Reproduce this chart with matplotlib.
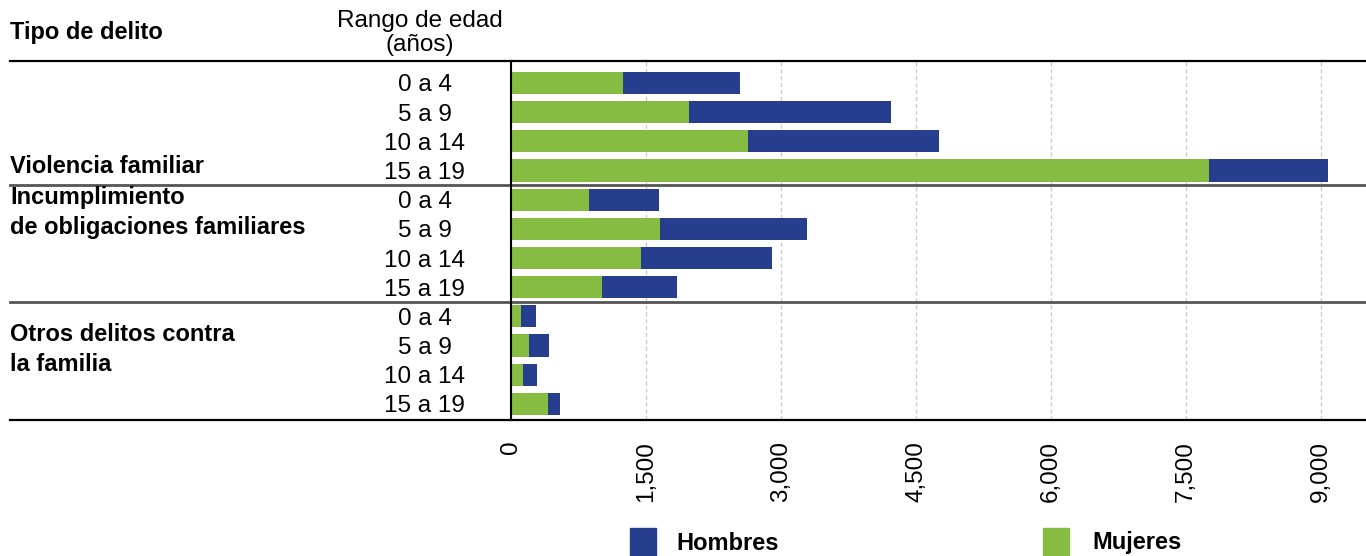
import matplotlib
matplotlib.use("Agg")
import matplotlib.pyplot as plt
from matplotlib.patches import Rectangle
import matplotlib.transforms as mtransforms
import numpy as np

plt.rcParams['font.family'] = ['Liberation Sans', 'DejaVu Sans']

# data
grupos = ["Violencia familiar",
          "Incumplimiento\nde obligaciones familiares",
          "Otros delitos contra\nla familia"]
edades = ["0 a 4", "5 a 9", "10 a 14", "15 a 19"]
mujeres = [1244, 1978, 2633, 7756,
           867, 1656, 1444, 1011,
           111, 200, 133, 411]
hombres = [1300, 2244, 2123, 1322,
           777, 1633, 1456, 833,
           167, 222, 156, 133]
xticks = [0, 1500, 3000, 4500, 6000, 7500, 9000]

verde = "#86BC42"
azul = "#273E8F"

W, H = 1366, 556
fig = plt.figure(figsize=(W / 100, H / 100), dpi=100)
ax = fig.add_axes([511 / W, 1 - 420 / H, 1 - 511 / W, (420 - 61) / H])

y = np.arange(len(mujeres))
ax.barh(y, mujeres, height=0.76, color=verde, zorder=3)
ax.barh(y, hombres, left=mujeres, height=0.76, color=azul, zorder=3)

ax.set_ylim(11.55, -0.75)
ax.set_xlim(0, 9000 * (1366 - 511) / (1321 - 511))

ax.set_xticks(xticks)
ax.set_xticklabels([f"{v:,}" for v in xticks], rotation=90, fontsize=17.5,
                   va="top")
ax.tick_params(axis="x", length=0, pad=15)
ax.set_yticks(y)
ax.set_yticklabels(edades * 3, fontsize=17.5, ha="center")
ax.tick_params(axis="y", length=0, pad=62)

ax.grid(axis="x", color="#cccccc", linestyle=(0, (3, 2)), linewidth=1, zorder=0)
for s in ["top", "right", "bottom"]:
    ax.spines[s].set_visible(False)
ax.spines["left"].set_color("black")
ax.spines["left"].set_linewidth(1.5)
ax.spines["left"].set_zorder(4)

x0 = (10 - 511) / (1366 - 511)
ax.axhline(-0.75, xmin=x0, xmax=1, color="black", lw=1.6, clip_on=False)
ax.axhline(3.5, xmin=x0, xmax=1, color="#555555", lw=2, clip_on=False)
ax.axhline(7.5, xmin=x0, xmax=1, color="#555555", lw=2, clip_on=False)
ax.axhline(11.55, xmin=x0, xmax=1, color="black", lw=1.6, clip_on=False)

# group labels
trans = mtransforms.blended_transform_factory(fig.transFigure, ax.transData)
pos = [2.86, 4.45, 9.13]
for g, p in zip(grupos, pos):
    ax.text(10 / W, p, g, transform=trans, fontsize=17, fontweight="bold",
            va="center", ha="left", linespacing=1.38)

# headers
fig.text(10 / W, 1 - 33 / H, "Tipo de delito", fontsize=17, fontweight="bold",
         va="center", ha="left")
fig.text(420 / W, 1 - 33 / H, "Rango de edad\n(años)", fontsize=17.5,
         va="center", ha="center", linespacing=1.12)

# legend
for xs, xt, col, lab in [(630, 676, azul, "Hombres"), (1043, 1092, verde, "Mujeres")]:
    fig.add_artist(Rectangle((xs / W, 0), 26 / W, 28 / H, transform=fig.transFigure,
                             color=col))
    fig.text(xt / W, 1 - 543 / H, lab, fontsize=17, fontweight="bold",
             va="center", ha="left")

fig.savefig("out.png", dpi=100)
